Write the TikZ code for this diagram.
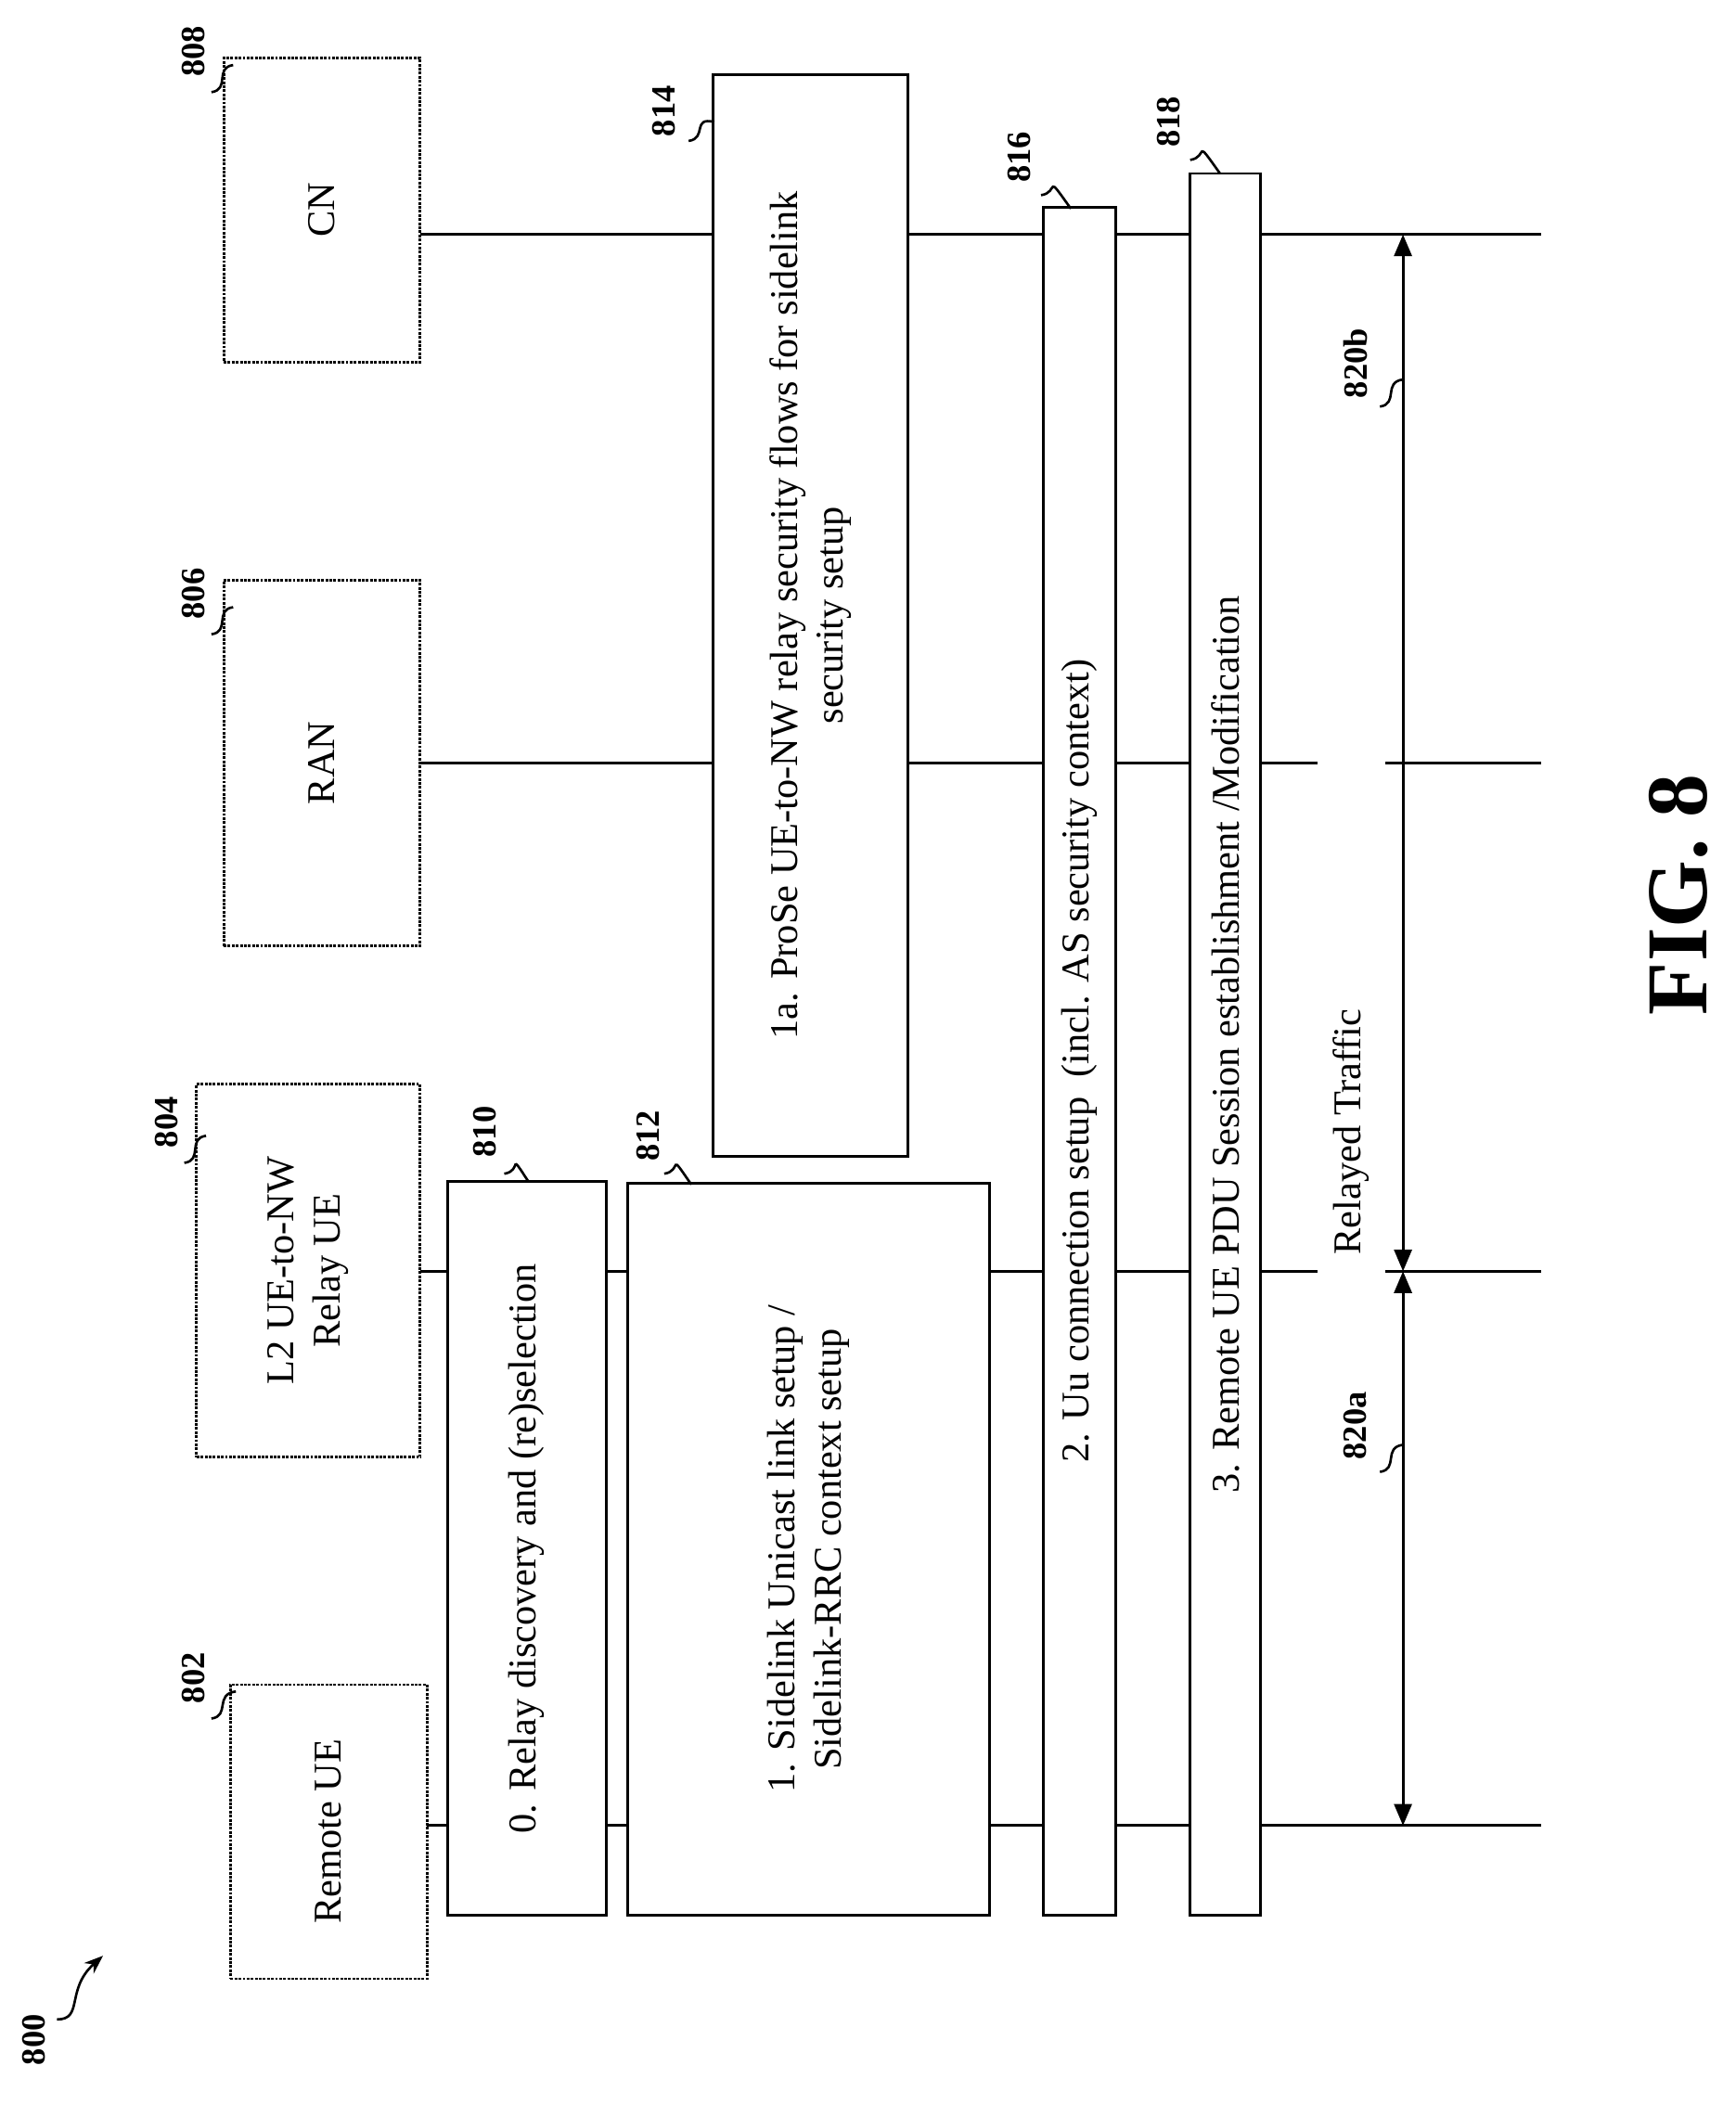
\documentclass[tikz,border=0pt]{standalone}
\usepackage{fontspec}
\setmainfont{Liberation Serif}
\usetikzlibrary{arrows.meta}
\begin{document}
\begin{tikzpicture}[x=1pt,y=-1pt,
 ent/.style={draw,densely dotted,line width=2pt,fill=white,inner sep=0pt},
 stp/.style={draw,line width=2pt,fill=white,inner sep=0pt},
 lf/.style={line width=2pt},
 txt/.style={rotate=90,font=\fontsize{29}{34}\selectfont,align=center},
 lbl/.style={rotate=90,font=\bfseries\fontsize{25}{28}\selectfont},
 sq/.style={line width=1.8pt}]
\useasboundingbox (0,0) rectangle (1280,1562);
% lifelines
\coordinate (l1a) at (310,1347); \coordinate (l1b) at (1137,1347);
\coordinate (l2a) at (310,938); \coordinate (l2b) at (972,938);
\coordinate (l2c) at (1022,938); \coordinate (l2d) at (1137,938);
\coordinate (l3a) at (310,563); \coordinate (l3b) at (972,563);
\coordinate (l3c) at (1022,563); \coordinate (l3d) at (1137,563);
\coordinate (l4a) at (310,173); \coordinate (l4b) at (1137,173);
\draw[lf] (l1a)--(l1b); \draw[lf] (l2a)--(l2b); \draw[lf] (l2c)--(l2d);
\draw[lf] (l3a)--(l3b); \draw[lf] (l3c)--(l3d); \draw[lf] (l4a)--(l4b);
% entities
\node[ent,minimum width=145pt,minimum height=217pt] (rue) at (242.5,1351.5) {};
\node[txt] at (rue) {Remote UE};
\node[ent,minimum width=165pt,minimum height=275pt] (rel) at (227.5,937.5) {};
\node[txt] at (rel) {L2 UE-to-NW\\Relay UE};
\node[ent,minimum width=145pt,minimum height=270pt] (ran) at (237.5,563) {};
\node[txt] at (ran) {RAN};
\node[ent,minimum width=145pt,minimum height=224pt] (cn) at (237.5,155) {};
\node[txt] at (cn) {CN};
% steps
\node[stp,minimum width=117pt,minimum height=541pt] (s810) at (388.5,1142.5) {};
\node[txt] at (s810) {0. Relay discovery and (re)selection};
\node[stp,minimum width=267pt,minimum height=540pt] (s812) at (596.5,1143) {};
\node[txt] at (s812) {1. Sidelink Unicast link setup /\\Sidelink-RRC context setup};
\node[stp,minimum width=144pt,minimum height=798pt] (s814) at (598,454) {};
\node[txt] at (s814) {1a. ProSe UE-to-NW relay security flows for sidelink\\security setup};
\node[stp,minimum width=53pt,minimum height=1260pt] (s816) at (796.5,783) {};
\node[txt] at (s816) {2. Uu connection setup\ \ (incl. AS security context)};
\node[stp,minimum width=52pt,minimum height=1285pt] (s818) at (904,770.5) {};
\node[txt] at (s818) {3. Remote UE PDU Session establishment /Modification};
% arrows
\coordinate (a1) at (1035,173); \coordinate (a2) at (1035,938); \coordinate (a3) at (1035,1347);
\draw[lf,{Triangle[length=16pt,width=13pt]}-{Triangle[length=16pt,width=13pt]}] (a1)--(a2);
\draw[lf,{Triangle[length=16pt,width=13pt]}-{Triangle[length=16pt,width=13pt]}] (a2)--(a3);
\node[txt] (rt) at (997,835) {Relayed Traffic};
% labels
\node[lbl] (n802) at (143,1238) {802};
\draw[sq] (156,1268) .. controls (170,1266) and (158,1250) .. (174,1248);
\node[lbl] (n804) at (123,828) {804};
\draw[sq] (136,858) .. controls (150,856) and (138,840) .. (152,838);
\node[lbl] (n806) at (143,438) {806};
\draw[sq] (156,468) .. controls (170,466) and (158,450) .. (172,448);
\node[lbl] (n808) at (143,38) {808};
\draw[sq] (156,68) .. controls (170,66) and (158,50) .. (172,48);
\node[lbl] (n810) at (358,835) {810};
\draw[sq] (372,866) .. controls (386,864) and (374,848) .. (390,872);
\node[lbl] (n812) at (478,838) {812};
\draw[sq] (490,866) .. controls (504,864) and (492,848) .. (510,874);
\node[lbl] (n814) at (490,82) {814};
\draw[sq] (508,104) .. controls (522,102) and (510,86) .. (527,90);
\node[lbl] (n816) at (752,116) {816};
\draw[sq] (768,144) .. controls (782,142) and (770,126) .. (790,154);
\node[lbl] (n818) at (862,90) {818};
\draw[sq] (878,118) .. controls (892,116) and (880,100) .. (900,128);
\node[lbl] (n820b) at (1000,268) {820b};
\draw[sq] (1018,300) .. controls (1032,298) and (1020,282) .. (1035,280);
\node[lbl] (n820a) at (1000,1052) {820a};
\draw[sq] (1018,1086) .. controls (1032,1084) and (1020,1068) .. (1035,1066);
\node[lbl] (n800) at (25,1505) {800};
\draw[sq,-{Stealth[length=14pt]}] (42,1490) .. controls (62,1490) and (48,1468) .. (76,1443);
\node[rotate=90,font=\bfseries\fontsize{64}{72}\selectfont] (fig) at (1238,660) {FIG. 8};
\end{tikzpicture}
\end{document}
